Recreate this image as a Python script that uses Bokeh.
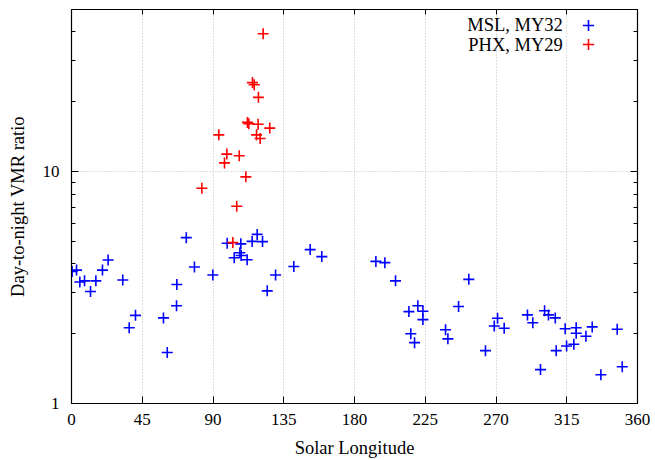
from bokeh.plotting import figure
from bokeh.models import (FixedTicker, LinearAxis, LogAxis, Range1d, Legend, LegendItem,
                          Label, ColumnDataSource, CustomLabelingPolicy)
from bokeh.embed import file_html
from bokeh.resources import INLINE

# ---- data ----
msl_ls = [0.4, 3.2, 5.3, 8.3, 12.1, 15.5, 19.7, 23.3, 32.6, 36.7, 40.7, 58.5, 60.9, 66.8,
          67.0, 73.0, 78.2, 89.9, 99.0, 103.5, 107.1, 107.7, 107.9, 111.7, 114.9, 118.1,
          121.5, 124.5, 129.8, 141.4, 151.8, 159.2, 193.6, 199.3, 206.1, 214.6, 215.8,
          218.2, 220.3, 223.5, 223.5, 237.9, 239.4, 246.2, 252.7, 263.3, 268.9, 271.0,
          275.2, 290.0, 293.4, 298.3, 300.9, 303.4, 307.7, 308.3, 314.0, 314.9, 319.5,
          321.0, 321.0, 327.2, 331.2, 336.7, 347.1, 350.3]
msl_ratio = [3.71, 3.76, 3.34, 3.38, 3.04, 3.38, 3.76, 4.16, 3.41, 2.12, 2.40, 2.34, 1.66,
             2.64, 3.26, 5.19, 3.88, 3.58, 4.91, 4.25, 4.47, 4.88, 4.35, 4.17, 5.00, 5.36,
             4.99, 3.06, 3.58, 3.90, 4.61, 4.30, 4.10, 4.05, 3.38, 2.49, 2.00, 1.83, 2.64,
             2.50, 2.30, 2.08, 1.90, 2.62, 3.43, 1.69, 2.16, 2.33, 2.11, 2.41, 2.23, 1.40,
             2.51, 2.41, 2.34, 1.69, 2.10, 1.77, 1.80, 2.12, 2.01, 1.95, 2.14, 1.33, 2.09,
             1.44]
phx_ls = [82.9, 93.7, 97.3, 98.8, 102.6, 105.1, 106.7, 110.9, 111.9, 112.8, 115.1, 116.2,
          117.7, 118.7, 118.9, 120.0, 121.9, 126.1]
phx_ratio = [8.47, 14.4, 10.9, 11.9, 4.94, 7.09, 11.7, 9.49, 16.3, 16.1, 24.2, 23.7, 14.4,
             16.0, 20.9, 13.9, 39.3, 15.4]

x_ticks = [0, 45, 90, 135, 180, 225, 270, 315, 360]
y_ticks = [1, 10]
y_tick_labels = {1: "1", 10: "10"}
y_minor = [2, 3, 4, 5, 6, 7, 8, 9, 20, 30, 40]
series_names = ["MSL, MY32", "PHX, MY29"]
colors = ["#0000ff", "#ff0000"]

FONT = "Liberation Serif"

p = figure(width=655, height=460, output_backend="svg", toolbar_location=None,
           y_axis_type="log", x_range=Range1d(0, 360), y_range=Range1d(1, 50),
           min_border_left=71, min_border_right=18, min_border_top=9, min_border_bottom=57)

p.outline_line_color = "black"
p.outline_line_width = 1.2

xa = p.xaxis[0]
xa.ticker = FixedTicker(ticks=x_ticks)
xa.axis_label = "Solar Longitude"
ya = p.yaxis[0]
ya.ticker = FixedTicker(ticks=y_ticks, minor_ticks=y_minor)
ya.major_label_overrides = y_tick_labels
ya.axis_label = "Day-to-night VMR ratio"

for ax in (xa, ya):
    ax.major_label_text_font = FONT
    ax.major_label_text_font_size = "17px"
    ax.major_label_text_color = "black"
    ax.axis_label_text_font = FONT
    ax.axis_label_text_font_size = "18.5px"
    ax.axis_label_text_font_style = "normal"
    ax.axis_label_text_color = "black"
    ax.major_tick_in = 7
    ax.major_tick_out = 0
    ax.minor_tick_in = 4
    ax.minor_tick_out = 0
    ax.axis_line_color = "black"
    ax.major_tick_line_color = "black"
    ax.minor_tick_line_color = "black"
xa.major_label_standoff = 10
ya.major_label_standoff = 12
xa.axis_label_standoff = 10
ya.axis_label_standoff = 12

# mirrored axes (ticks only)
top = LinearAxis(ticker=FixedTicker(ticks=x_ticks),
                 major_label_policy=CustomLabelingPolicy(code="for (const i of Array.from(indices)) indices.unset(i)"),
                 major_label_text_font_size="6px", major_label_text_alpha=0,
                 major_label_standoff=0, major_tick_in=5, major_tick_out=0,
                 minor_tick_in=0, minor_tick_out=0, axis_line_color="black")
right = LogAxis(ticker=FixedTicker(ticks=y_ticks, minor_ticks=y_minor),
                major_label_policy=CustomLabelingPolicy(code="for (const i of Array.from(indices)) indices.unset(i)"),
                major_label_text_font_size="6px", major_label_text_alpha=0,
                major_label_standoff=0,
                major_tick_in=7, major_tick_out=0, minor_tick_in=4, minor_tick_out=0,
                axis_line_color="black")
p.add_layout(top, "above")
p.add_layout(right, "right")

# grid
p.xgrid.ticker = FixedTicker(ticks=x_ticks)
p.ygrid.ticker = FixedTicker(ticks=y_ticks)
for g in (p.xgrid[0], p.ygrid[0]):
    g.grid_line_color = "#c0c0c0"
    g.grid_line_dash = "1 2"
    g.grid_line_width = 1

src_msl = ColumnDataSource(dict(x=msl_ls, y=msl_ratio))
src_phx = ColumnDataSource(dict(x=phx_ls, y=phx_ratio))
r1 = p.scatter("x", "y", source=src_msl, marker="cross", size=11, line_width=1.6,
               line_color=colors[0])
r2 = p.scatter("x", "y", source=src_phx, marker="cross", size=11, line_width=1.6,
               line_color=colors[1])

# gnuplot-style key: text on left, symbol on right (one symbol-only legend per row)
for r, loc in zip([r1, r2], [(503, 364), (503, 345)]):
    leg = Legend(items=[LegendItem(label=" ", renderers=[r])],
                 location=loc, glyph_width=28, glyph_height=28, label_height=19,
                 label_width=1, label_standoff=0, label_text_font_size="12px", padding=0,
                 spacing=0, margin=0, border_line_color=None, background_fill_alpha=0)
    p.add_layout(leg)

for name, yv in zip(series_names, [42.7, 35.3]):
    p.add_layout(Label(x=312.5, y=yv, text=name, text_align="right", text_baseline="middle",
                       text_font=FONT, text_font_size="18.5px", text_color="black"))

open("out.html", "w").write(file_html(p, INLINE))
